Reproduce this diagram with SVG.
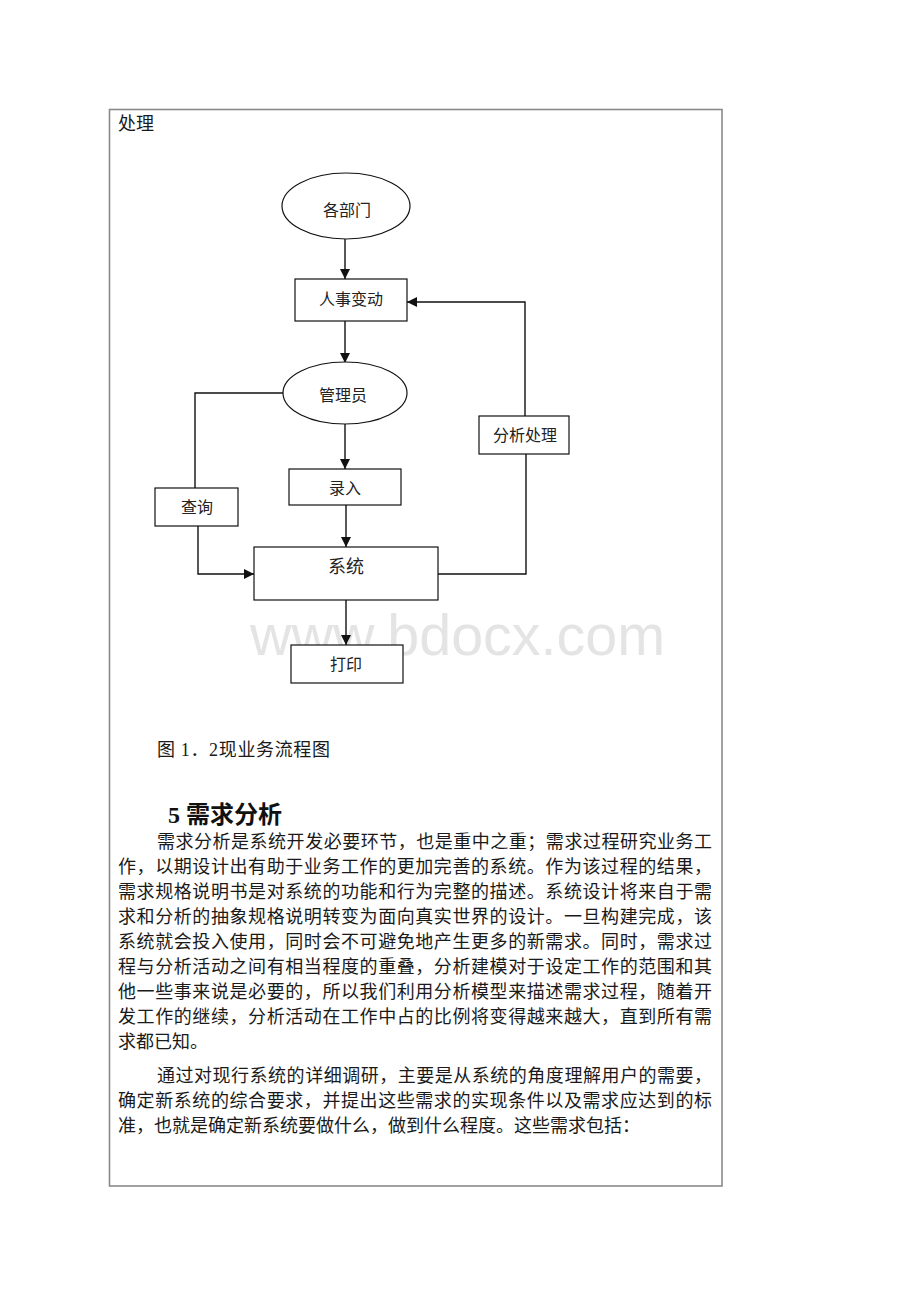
<svg xmlns="http://www.w3.org/2000/svg" width="920" height="1302" viewBox="0 0 920 1302">
<style>
.frame{fill:none;stroke:#8a8a8a;stroke-width:1.6}
.box{fill:#ffffff;stroke:#111;stroke-width:1.2}
.lbl{font-family:"Liberation Serif","Noto Sans CJK SC",serif;font-size:16px;fill:#222;text-anchor:middle}
.lbl18{font-family:"Liberation Serif","Noto Sans CJK SC",serif;font-size:18px;fill:#222;text-anchor:middle}
.body{font-family:"Liberation Serif","Noto Sans CJK SC",serif;font-size:18px;fill:#1a1a1a}
.head{font-family:"Liberation Serif","Noto Sans CJK SC",serif;font-size:24px;font-weight:bold;fill:#111}
.wm{font-family:"Liberation Sans",Arial,sans-serif;font-size:57px;fill:#e4e4e4}
.conn{fill:none;stroke:#111;stroke-width:1.4}
</style>
<defs>
<marker id="arr" viewBox="0 0 10 10" refX="10" refY="5" markerWidth="10" markerHeight="10" markerUnits="userSpaceOnUse" orient="auto">
<path d="M0,0 L10,5 L0,10 z" fill="#111"/>
</marker>
</defs>
<rect x="0" y="0" width="920" height="1302" fill="#ffffff"/>
<rect class="frame" x="109.5" y="109.5" width="612.5" height="1076.5"/>
<text class="body" x="118" y="130">处理</text>
<text class="wm" x="250" y="655" textLength="415" lengthAdjust="spacingAndGlyphs">www.bdocx.com</text>
<g id="connectors">
<line class="conn" x1="345" y1="239" x2="345" y2="279" marker-end="url(#arr)"/>
<line class="conn" x1="345" y1="321" x2="345" y2="363" marker-end="url(#arr)"/>
<line class="conn" x1="345" y1="424" x2="345" y2="469" marker-end="url(#arr)"/>
<line class="conn" x1="346" y1="505" x2="346" y2="547" marker-end="url(#arr)"/>
<line class="conn" x1="346" y1="600" x2="346" y2="645" marker-end="url(#arr)"/>
<polyline class="conn" points="283,393 195,393 195,488"/>
<polyline class="conn" points="198,526 198,574 254,574" marker-end="url(#arr)"/>
<polyline class="conn" points="438,574 526,574 526,454"/>
<polyline class="conn" points="525,416 525,302 407,302" marker-end="url(#arr)"/>
</g>
<g id="n-bumen">
<ellipse class="box" cx="346" cy="206" rx="64" ry="33"/>
<text class="lbl" x="347" y="216">各部门</text>
</g>
<g id="n-renshi">
<rect class="box" x="295" y="279" width="112" height="42"/>
<text class="lbl" x="351" y="305">人事变动</text>
</g>
<g id="n-guanli">
<ellipse class="box" cx="345" cy="393" rx="62" ry="31"/>
<text class="lbl" x="343" y="401">管理员</text>
</g>
<g id="n-fenxi">
<rect class="box" x="479" y="416" width="90" height="38"/>
<text class="lbl" x="525" y="441">分析处理</text>
</g>
<g id="n-luru">
<rect class="box" x="289" y="469" width="112" height="36"/>
<text class="lbl" x="345" y="494">录入</text>
</g>
<g id="n-chaxun">
<rect class="box" x="155" y="488" width="83" height="38"/>
<text class="lbl" x="197" y="513">查询</text>
</g>
<g id="n-xitong">
<rect class="box" x="254" y="547" width="184" height="53"/>
<text class="lbl18" x="346" y="572.5">系统</text>
</g>
<g id="n-dayin">
<rect class="box" x="291" y="645" width="112" height="38"/>
<text class="lbl" x="346" y="670">打印</text>
</g>
<text class="body" x="157" y="756" textLength="173" lengthAdjust="spacing">图 1．2现业务流程图</text>
<text class="head" x="168" y="823">5 需求分析</text>
<g id="para1">
<text class="body" x="157" y="848" textLength="555" lengthAdjust="spacing">需求分析是系统开发必要环节，也是重中之重；需求过程研究业务工</text>
<text class="body" x="118" y="873" textLength="594" lengthAdjust="spacing">作，以期设计出有助于业务工作的更加完善的系统。作为该过程的结果，</text>
<text class="body" x="118" y="898" textLength="594" lengthAdjust="spacing">需求规格说明书是对系统的功能和行为完整的描述。系统设计将来自于需</text>
<text class="body" x="118" y="923" textLength="594" lengthAdjust="spacing">求和分析的抽象规格说明转变为面向真实世界的设计。一旦构建完成，该</text>
<text class="body" x="118" y="948" textLength="594" lengthAdjust="spacing">系统就会投入使用，同时会不可避免地产生更多的新需求。同时，需求过</text>
<text class="body" x="118" y="973" textLength="594" lengthAdjust="spacing">程与分析活动之间有相当程度的重叠，分析建模对于设定工作的范围和其</text>
<text class="body" x="118" y="998" textLength="594" lengthAdjust="spacing">他一些事来说是必要的，所以我们利用分析模型来描述需求过程，随着开</text>
<text class="body" x="118" y="1023" textLength="594" lengthAdjust="spacing">发工作的继续，分析活动在工作中占的比例将变得越来越大，直到所有需</text>
<text class="body" x="118" y="1048">求都已知。</text>
</g>
<g id="para2">
<text class="body" x="157" y="1082" textLength="555" lengthAdjust="spacing">通过对现行系统的详细调研，主要是从系统的角度理解用户的需要，</text>
<text class="body" x="118" y="1107" textLength="594" lengthAdjust="spacing">确定新系统的综合要求，并提出这些需求的实现条件以及需求应达到的标</text>
<text class="body" x="118" y="1132">准，也就是确定新系统要做什么，做到什么程度。这些需求包括：</text>
</g>
</svg>
